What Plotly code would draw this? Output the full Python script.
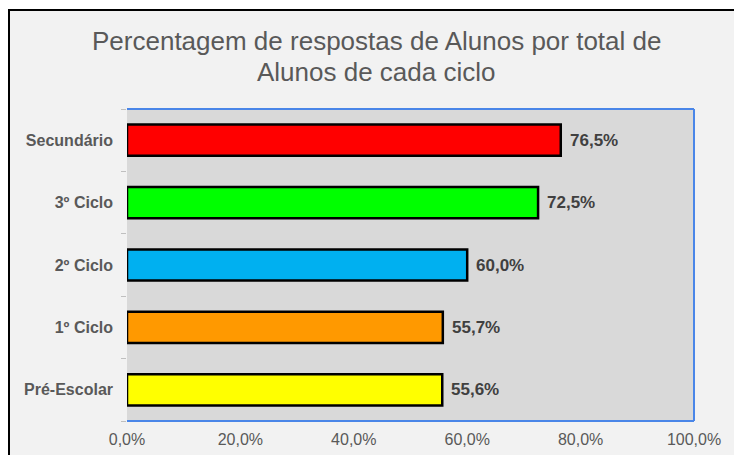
import plotly.graph_objects as go

categories = ["Pré-Escolar", "1º Ciclo", "2º Ciclo", "3º Ciclo", "Secundário"]
values = [0.556, 0.557, 0.600, 0.725, 0.765]
colors = ["#ffff00", "#ff9900", "#00b0f0", "#00ff00", "#ff0000"]
x_ticks = [0, 0.2, 0.4, 0.6, 0.8, 1.0]
title_lines = ["Percentagem de respostas de Alunos por total de", "Alunos de cada ciclo"]

FONT = "Liberation Sans, Arial, sans-serif"
W, H = 734, 455
L, R, T, B = 127, 40, 109, 34

fig = go.Figure()
fig.add_trace(go.Bar(
    y=categories, x=values, orientation="h",
    marker=dict(color=colors, line=dict(color="#000000", width=2.5)),
    width=0.5, hoverinfo="skip",
))

for c, v in zip(categories, values):
    fig.add_annotation(x=v, y=c, xref="x", yref="y", text=f"<b>{v*100:.1f}%</b>".replace(".", ","),
                       showarrow=False, xanchor="left", xshift=7,
                       font=dict(family=FONT, size=17, color="#404040"))

pw, ph = W - L - R, H - T - B
def px_x(p): return (p - L) / pw
def px_y(p): return (H - B - p) / ph

for line, yc in zip(title_lines, [41, 72]):
    fig.add_annotation(x=px_x(376), y=px_y(yc), xref="paper", yref="paper", text=line,
                       showarrow=False, xanchor="center", yanchor="middle",
                       font=dict(family=FONT, size=26, color="#595959"))

shapes = [
    dict(type="rect", xref="paper", yref="paper", x0=px_x(8), x1=px_x(W + 30), y0=px_y(H + 30), y1=px_y(9),
         fillcolor="#000000", line=dict(width=0), layer="below"),
    dict(type="rect", xref="paper", yref="paper", x0=px_x(10), x1=px_x(W + 30), y0=px_y(H + 30), y1=px_y(11),
         fillcolor="#f2f2f2", line=dict(width=0), layer="below"),
    dict(type="rect", xref="paper", yref="paper", x0=0, x1=1, y0=0, y1=1,
         fillcolor="#d9d9d9", line=dict(width=0), layer="below"),
    dict(type="line", xref="paper", yref="paper", x0=0, x1=1, y0=1, y1=1, line=dict(color="#4a86e8", width=2)),
    dict(type="line", xref="paper", yref="paper", x0=1, x1=1, y0=0, y1=1, line=dict(color="#4a86e8", width=2)),
    dict(type="line", xref="paper", yref="paper", x0=0, x1=1, y0=0, y1=0, line=dict(color="#4a86e8", width=2)),
]

fig.update_layout(
    width=W, height=H,
    margin=dict(l=L, r=R, t=T, b=B, autoexpand=False),
    paper_bgcolor="#ffffff", plot_bgcolor="#d9d9d9",
    separators=",.",
    showlegend=False,
    shapes=shapes,
    xaxis=dict(range=[0, 1], tickvals=x_ticks, tickformat=".1%", showgrid=False, zeroline=False,
               showline=False, ticks="", tickfont=dict(family=FONT, size=16, color="#595959"),
               ticklabelstandoff=7, automargin=False, fixedrange=True),
    yaxis=dict(categoryorder="array", categoryarray=categories, showgrid=False, zeroline=False,
               showline=False, ticks="outside", tickson="boundaries", ticklen=5, tickcolor="#bfbfbf",
               tickfont=dict(family=FONT, size=16, color="#595959"), ticklabelstandoff=13,
               automargin=False, range=[-0.5, 4.5], fixedrange=True),
    bargap=0.5,
)
fig.update_yaxes(ticktext=[f"<b>{c}</b>" for c in categories], tickvals=categories)

fig.write_html("out.html", config={"staticPlot": True},
               post_script="document.body.style.margin='0';document.body.style.overflow='hidden';")
